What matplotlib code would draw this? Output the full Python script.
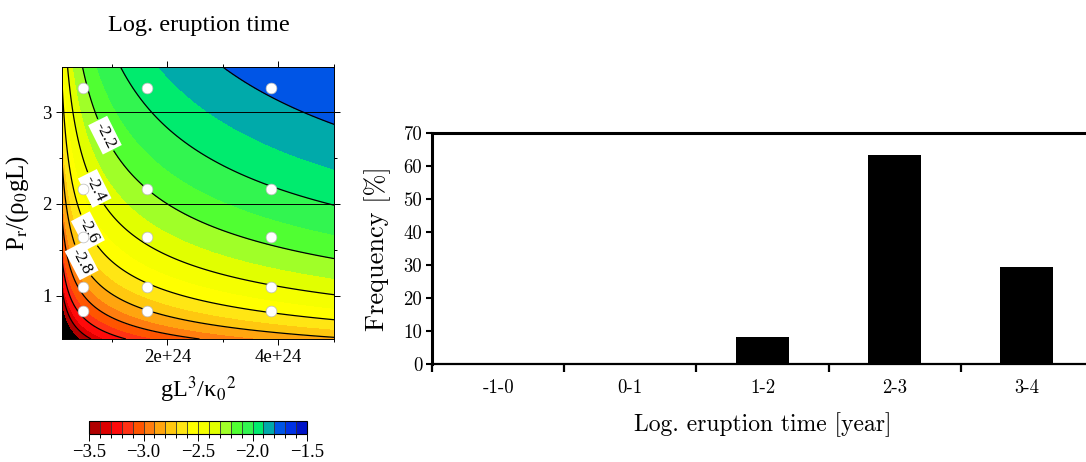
import numpy as np
import matplotlib
matplotlib.use("Agg")
import matplotlib.pyplot as plt
from matplotlib.colors import ListedColormap, BoundaryNorm
from matplotlib.ticker import FixedLocator, FuncFormatter, MultipleLocator, NullFormatter
import matplotlib.cm as cm

# ---------------- data: left panel (contour map) ----------------
dot_x = [0.48e24, 1.63e24, 3.87e24]          # gL^3/kappa0^2 of simulation points
dot_y = [0.83, 1.10, 1.64, 2.16, 3.26]       # Pr/(rho0 g L) of simulation points
x_range = [0.1e24, 5.0e24]
y_range = [0.53, 3.49]
# surface: f = c + a*u + b*u^2, u = log10(x/1e24) + k*log10(y)
y_exponent = 2.6
coef_c, coef_a, coef_b = -2.812, 0.604, -0.036
fill_levels = [-3.5, -3.4, -3.3, -3.2, -3.1, -3.0, -2.9, -2.8, -2.7, -2.6, -2.5,
               -2.4, -2.3, -2.2, -2.1, -2.0, -1.9, -1.8, -1.7, -1.6, -1.5]
plain_levels = [-3.4, -3.2, -3.0, -2.0, -1.8, -1.6]
labeled_levels = [-2.8, -2.6, -2.4, -2.2]
label_x = [0.455e24, 0.54e24, 0.66e24, 0.78e24]
label_y = [1.38, 1.70, 2.16, 2.72]
cbar_colors = ["#b00000", "#dc0000", "#ff0a0a", "#ff3214", "#ff5500", "#ff7d0f",
               "#ffa50f", "#ffc80f", "#ffe614", "#ffff00", "#f5ff00", "#e1ff00",
               "#a0ff28", "#50ff32", "#32f550", "#00eb6e", "#00aaaa", "#0055e6",
               "#0032e6", "#0014c8"]
cbar_ticks = [-3.5, -3.0, -2.5, -2.0, -1.5]

# ---------------- data: right panel (histogram) ----------------
categories = ["-1-0", "0-1", "1-2", "2-3", "3-4"]
frequency = [0.0, 0.0, 8.3, 63.2, 29.4]

plt.rcParams["font.family"] = ["Liberation Serif", "DejaVu Serif"]
plt.rcParams["mathtext.fontset"] = "stix"

W, H = 1086, 462
fig = plt.figure(figsize=(W / 100, H / 100), dpi=100)

# ---------------- left panel ----------------
ax1 = fig.add_axes([62 / W, 123 / H, 272 / W, 272 / H])
xs = np.linspace(x_range[0], x_range[1], 500)
ys = np.linspace(y_range[0], y_range[1], 500)
X, Y = np.meshgrid(xs, ys)
U = np.log10(X / 1e24) + y_exponent * np.log10(Y)
Z = coef_c + coef_a * U + coef_b * U ** 2

cmap = ListedColormap(cbar_colors).with_extremes(under="black", over=cbar_colors[-1])
norm = BoundaryNorm(fill_levels, cmap.N)
ax1.contourf(X, Y, Z, levels=fill_levels, cmap=cmap, norm=norm, extend="both")
ax1.contour(X, Y, Z, levels=plain_levels, colors="black", linewidths=0.9,
            linestyles="solid")
cs = ax1.contour(X, Y, Z, levels=labeled_levels, colors="black", linewidths=0.9,
                 linestyles="solid")
labels = ax1.clabel(cs, manual=list(zip(label_x, label_y)),
                    fmt=lambda v: f"{v:.1f}", inline=True, inline_spacing=4, fontsize=12.5)
for t in labels:
    t.set_bbox(dict(boxstyle="square,pad=0.15", fc="white", ec="none"))
    t.set_zorder(4)

for yl in (2, 3):
    ax1.axhline(yl, color="black", lw=0.7, zorder=3)

gx, gy = np.meshgrid(dot_x, dot_y)
ax1.scatter(gx.ravel(), gy.ravel(), s=60, c="white", edgecolors="#bbbbbb",
            linewidths=0.5, zorder=5)

ax1.set_xlim(x_range)
ax1.set_ylim(y_range)
ax1.xaxis.set_major_locator(FixedLocator([2e24, 4e24]))
ax1.xaxis.set_minor_locator(FixedLocator([1e24, 3e24, 5e24]))
ax1.xaxis.set_major_formatter(FuncFormatter(lambda v, p: f"{v / 1e24:.0f}e+24"))
ax1.yaxis.set_major_locator(FixedLocator([1, 2, 3]))
ax1.yaxis.set_minor_locator(FixedLocator([0.5, 1.5, 2.5]))
ax1.tick_params(which="both", direction="out", top=True, right=True, width=0.7,
                labelsize=13.5, pad=3)
ax1.tick_params(which="major", length=4.5)
ax1.tick_params(which="minor", length=2.5)
for s in ax1.spines.values():
    s.set_linewidth(0.7)
ax1.set_xlabel(r"gL$^3$/κ$_0$$^2$", fontsize=17.5, labelpad=6)
ax1.set_ylabel(r"P$_\mathrm{r}$/(ρ$_0$gL)", fontsize=18, labelpad=8)
fig.text(199 / W, 1 - 31 / H, "Log. eruption time", ha="center", va="baseline",
         fontsize=17.5)

# colorbar
cax = fig.add_axes([89 / W, 28 / H, 218 / W, 13 / H])
sm = cm.ScalarMappable(norm=norm, cmap=ListedColormap(cbar_colors))
cb = fig.colorbar(sm, cax=cax, orientation="horizontal", drawedges=True,
                  ticks=cbar_ticks)
cb.outline.set_linewidth(0.8)
cb.dividers.set_linewidth(0.6)
cb.dividers.set_color("#333333")
cax.xaxis.set_minor_locator(FixedLocator(fill_levels))
cax.tick_params(which="major", length=5, width=0.7, labelsize=13.5, pad=2)
cax.tick_params(which="minor", length=3, width=0.7)

# ---------------- right panel ----------------
ax2 = fig.add_axes([432 / W, 98 / H, 661 / W, 231 / H])
pos = np.arange(len(categories))
ax2.bar(pos, frequency, width=0.4, color="black")
ax2.set_xlim(-0.5, len(categories) - 0.5)
ax2.set_ylim(0, 70)
ax2.xaxis.set_major_locator(FixedLocator(np.arange(len(categories) + 1) - 0.5))
ax2.xaxis.set_major_formatter(NullFormatter())
ax2.xaxis.set_minor_locator(FixedLocator(pos))
ax2.set_xticks(pos, categories, minor=True)
ax2.yaxis.set_major_locator(MultipleLocator(10))
ax2.tick_params(axis="x", which="major", direction="out", length=6, width=1.6)
ax2.tick_params(axis="x", which="minor", length=0, pad=11, labelsize=13.5,
                labelfontfamily="cmr10")
ax2.tick_params(axis="y", direction="out", length=4, width=1.5, labelsize=13.5,
                pad=3, labelfontfamily="cmr10")
ax2.spines["right"].set_visible(False)
ax2.spines["top"].set_linewidth(2.2)
ax2.spines["left"].set_linewidth(2.2)
ax2.spines["bottom"].set_linewidth(1.6)
ax2.set_ylabel("Frequency [%]", fontsize=19, fontfamily="cmr10", labelpad=9)
ax2.set_xlabel("Log. eruption time [year]", fontsize=17, fontfamily="cmr10",
               labelpad=11)

fig.savefig("out.png", dpi=100)
